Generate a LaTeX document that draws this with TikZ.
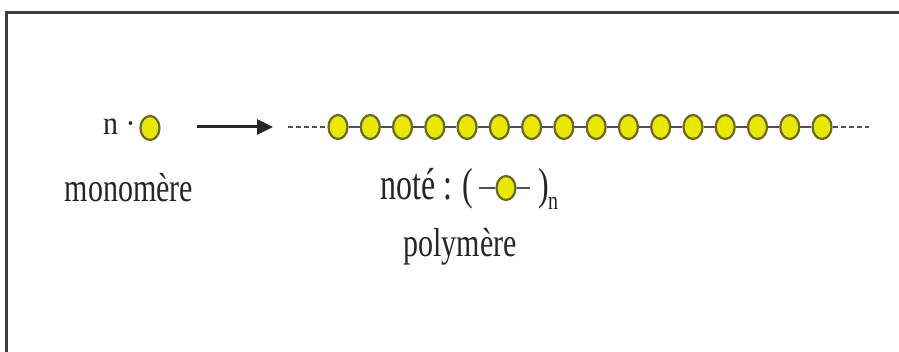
\documentclass[tikz,border=0pt]{standalone}
\usepackage{fontspec}
\setmainfont{Liberation Serif}
\usetikzlibrary{arrows.meta,shapes.geometric}
\definecolor{beadfill}{RGB}{232,232,0}
\definecolor{beadline}{RGB}{105,105,35}
\definecolor{bondcol}{RGB}{80,80,92}
\definecolor{framecol}{RGB}{60,60,60}
\begin{document}
\begin{tikzpicture}[x=1pt,y=-1pt,
  bead/.style={shape=ellipse, minimum width=19pt, minimum height=24pt, inner sep=0pt,
               draw=beadline, fill=beadfill, line width=2.2pt},
  bond/.style={draw=bondcol, line width=2.8pt},
  dashbond/.style={draw=bondcol, line width=2.4pt, dash pattern=on 5pt off 3pt},
  lbl/.style={font=\fontsize{30}{36}\selectfont, inner sep=0pt, text=black!85}]
\useasboundingbox (0,0) rectangle (899,352);
\fill[white] (0,0) rectangle (899,352);
\draw[framecol, line width=2.4pt] (6.5,360) -- (6.5,12.5) -- (910,12.5);

% monomer
\node[lbl, anchor=base west] (n) at (103,135) {\scalebox{1}[1.1]{n ·}};
\node[bead] (m) at (150,128) {};
\node[lbl, anchor=base] (mono) at (129,202) {\scalebox{1}[1.35]{monomère}};

% reaction arrow
\coordinate (as) at (197,127);
\coordinate (ae) at (273,127);
\draw[line width=3pt, black!85, -{Triangle[length=16pt,width=15pt]}] (as) -- (ae);

% polymer chain
\foreach \i in {1,...,16}
  \node[bead] (c\i) at ({338+(\i-1)*32.27},127) {};
\foreach \i in {1,...,15}{
  \pgfmathtruncatemacro{\j}{\i+1}
  \draw[bond] (c\i) -- (c\j);
}
\coordinate (dl) at (288,127);
\coordinate (dr) at (869,127);
\draw[dashbond] (dl) -- (c1);
\draw[dashbond] (c16) -- (dr);

% notation
\node[lbl, anchor=base west, font=\fontsize{32}{38}\selectfont] (note) at (380,200) {\scalebox{1}[1.4]{noté : (}};
\node[bead] (u) at (506,188) {};
\coordinate (ul) at (479,188);
\coordinate (ur) at (530,188);
\draw[bond] (ul) -- (u);
\draw[bond] (u) -- (ur);
\node[lbl, anchor=base west, font=\fontsize{32}{38}\selectfont] (cp) at (538,200) {\scalebox{1}[1.4]{)}};
\node[lbl, anchor=base west, font=\fontsize{20}{24}\selectfont] (sub) at (548,210) {\scalebox{1}[1.3]{n}};
\node[lbl, anchor=base] (poly) at (460,257) {\scalebox{1}[1.35]{polymère}};
\end{tikzpicture}
\end{document}
